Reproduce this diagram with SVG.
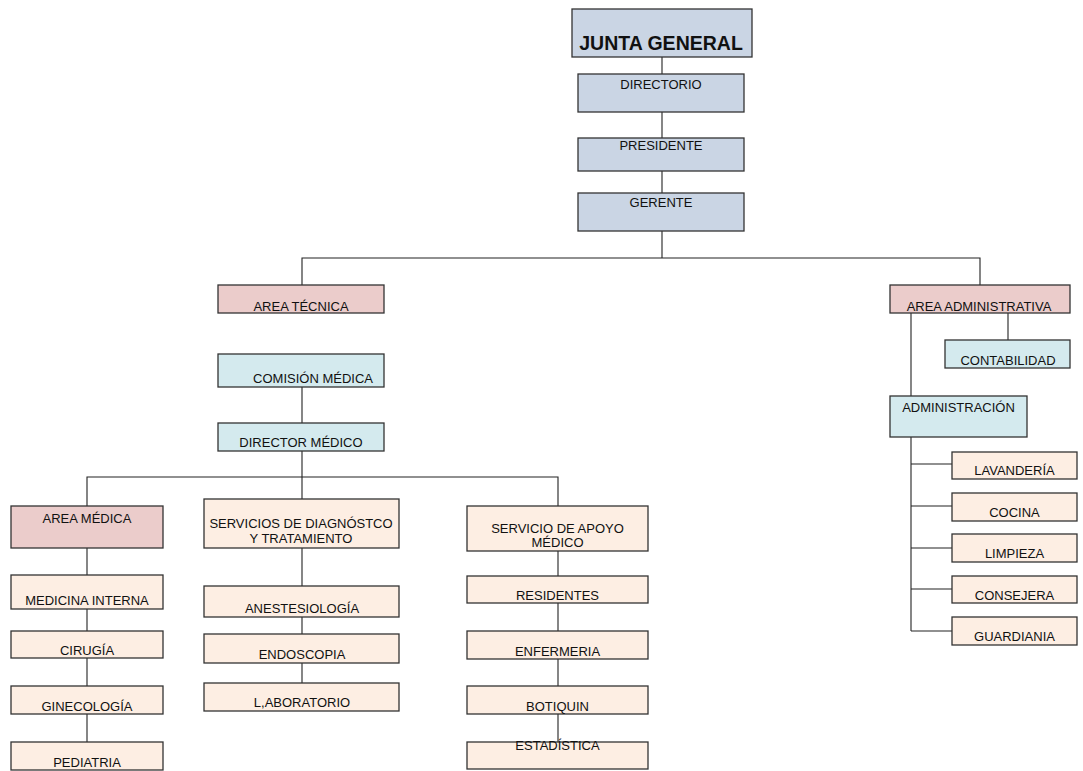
<svg xmlns="http://www.w3.org/2000/svg" width="1083" height="771" viewBox="0 0 1083 771">
<style>
.box{stroke:#333;stroke-width:1.3}
.b{fill:#cad5e4}
.p{fill:#ebcccb}
.c{fill:#d4eaee}
.o{fill:#fdeee3}
text{font-family:"Liberation Sans",Arial,sans-serif;font-size:13px;fill:#111;text-anchor:middle}
.big{font-size:19.5px;font-weight:bold}
.conn line,.conn polyline{stroke:#222;stroke-width:1.1;fill:none}
</style>
<rect width="1083" height="771" fill="#fff"/>
<g class="conn">
<line x1="662" y1="57" x2="662" y2="74"/>
<line x1="662" y1="112" x2="662" y2="138"/>
<line x1="662" y1="171" x2="662" y2="193"/>
<line x1="662" y1="231" x2="662" y2="258"/>
<polyline points="302,285 302,258 980,258 980,285"/>
<line x1="302" y1="387" x2="302" y2="423"/>
<line x1="302" y1="451" x2="302" y2="499"/>
<polyline points="87,506 87,477 558,477 558,506"/>
<line x1="87" y1="548" x2="87" y2="575"/>
<line x1="87" y1="609" x2="87" y2="631"/>
<line x1="87" y1="658" x2="87" y2="686"/>
<line x1="87" y1="714" x2="87" y2="742"/>
<line x1="302" y1="548" x2="302" y2="586"/>
<line x1="302" y1="617" x2="302" y2="634"/>
<line x1="302" y1="663" x2="302" y2="683"/>
<line x1="558" y1="551" x2="558" y2="576"/>
<line x1="558" y1="603" x2="558" y2="631"/>
<line x1="558" y1="659" x2="558" y2="686"/>
<line x1="558" y1="714" x2="558" y2="742"/>
<line x1="1008" y1="313" x2="1008" y2="340"/>
<line x1="911" y1="313" x2="911" y2="396"/>
<line x1="911" y1="437" x2="911" y2="631"/>
<line x1="911" y1="464" x2="952" y2="464"/>
<line x1="911" y1="506" x2="952" y2="506"/>
<line x1="911" y1="548" x2="952" y2="548"/>
<line x1="911" y1="589" x2="952" y2="589"/>
<line x1="911" y1="631" x2="952" y2="631"/>
</g>
<g id="junta"><rect class="box b" x="572" y="9" width="180" height="48"/><text class="big" x="661" y="50">JUNTA GENERAL</text></g>
<g id="directorio"><rect class="box b" x="578" y="74" width="166" height="38"/><text x="661" y="89">DIRECTORIO</text></g>
<g id="presidente"><rect class="box b" x="578" y="138" width="166" height="33"/><text x="661" y="150">PRESIDENTE</text></g>
<g id="gerente"><rect class="box b" x="578" y="193" width="166" height="38"/><text x="661" y="207">GERENTE</text></g>
<g id="area-tecnica"><rect class="box p" x="218" y="285" width="166" height="28"/><text x="301" y="311">AREA TÉCNICA</text></g>
<g id="comision"><rect class="box c" x="218" y="354" width="166" height="33"/><text x="313" y="383">COMISIÓN MÉDICA</text></g>
<g id="director-medico"><rect class="box c" x="218" y="423" width="166" height="28"/><text x="301" y="447">DIRECTOR MÉDICO</text></g>
<g id="area-admin"><rect class="box p" x="890" y="285" width="180" height="28"/><text x="979" y="311">AREA ADMINISTRATIVA</text></g>
<g id="contabilidad"><rect class="box c" x="945" y="340" width="125" height="28"/><text x="1008" y="365">CONTABILIDAD</text></g>
<g id="administracion"><rect class="box c" x="890" y="396" width="137" height="41"/><text x="958.5" y="412">ADMINISTRACIÓN</text></g>
<g id="lavanderia"><rect class="box o" x="952" y="452" width="125" height="27"/><text x="1014.5" y="475">LAVANDERÍA</text></g>
<g id="cocina"><rect class="box o" x="952" y="493" width="125" height="28"/><text x="1014.5" y="517">COCINA</text></g>
<g id="limpieza"><rect class="box o" x="952" y="534" width="125" height="28"/><text x="1014.5" y="558">LIMPIEZA</text></g>
<g id="consejera"><rect class="box o" x="952" y="576" width="125" height="27"/><text x="1014.5" y="600">CONSEJERA</text></g>
<g id="guardiania"><rect class="box o" x="952" y="617" width="125" height="28"/><text x="1014.5" y="641">GUARDIANIA</text></g>
<g id="area-medica"><rect class="box p" x="11" y="506" width="152" height="42"/><text x="87" y="523">AREA MÉDICA</text></g>
<g id="medicina"><rect class="box o" x="11" y="575" width="152" height="34"/><text x="87" y="605">MEDICINA INTERNA</text></g>
<g id="cirugia"><rect class="box o" x="11" y="631" width="152" height="27"/><text x="87" y="655">CIRUGÍA</text></g>
<g id="ginecologia"><rect class="box o" x="11" y="686" width="152" height="28"/><text x="87" y="711">GINECOLOGÍA</text></g>
<g id="pediatria"><rect class="box o" x="11" y="742" width="152" height="28"/><text x="87" y="767">PEDIATRIA</text></g>
<g id="servicios-diag"><rect class="box o" x="204" y="499" width="195" height="49"/><text x="301" y="528">SERVICIOS DE DIAGNÓSTCO</text><text x="301" y="543">Y TRATAMIENTO</text></g>
<g id="anestesiologia"><rect class="box o" x="204" y="586" width="195" height="31"/><text x="302" y="613">ANESTESIOLOGÍA</text></g>
<g id="endoscopia"><rect class="box o" x="204" y="634" width="195" height="29"/><text x="302" y="659">ENDOSCOPIA</text></g>
<g id="laboratorio"><rect class="box o" x="204" y="683" width="195" height="28"/><text x="302" y="707">L,ABORATORIO</text></g>
<g id="servicio-apoyo"><rect class="box o" x="467" y="506" width="181" height="45"/><text x="557.5" y="533">SERVICIO DE APOYO</text><text x="557.5" y="547">MÉDICO</text></g>
<g id="residentes"><rect class="box o" x="467" y="576" width="181" height="27"/><text x="557.5" y="600">RESIDENTES</text></g>
<g id="enfermeria"><rect class="box o" x="467" y="631" width="181" height="28"/><text x="557.5" y="656">ENFERMERIA</text></g>
<g id="botiquin"><rect class="box o" x="467" y="686" width="181" height="28"/><text x="557.5" y="711">BOTIQUIN</text></g>
<g id="estadistica"><rect class="box o" x="467" y="742" width="181" height="27"/><text x="557.5" y="750">ESTADÍSTICA</text></g>
</svg>
